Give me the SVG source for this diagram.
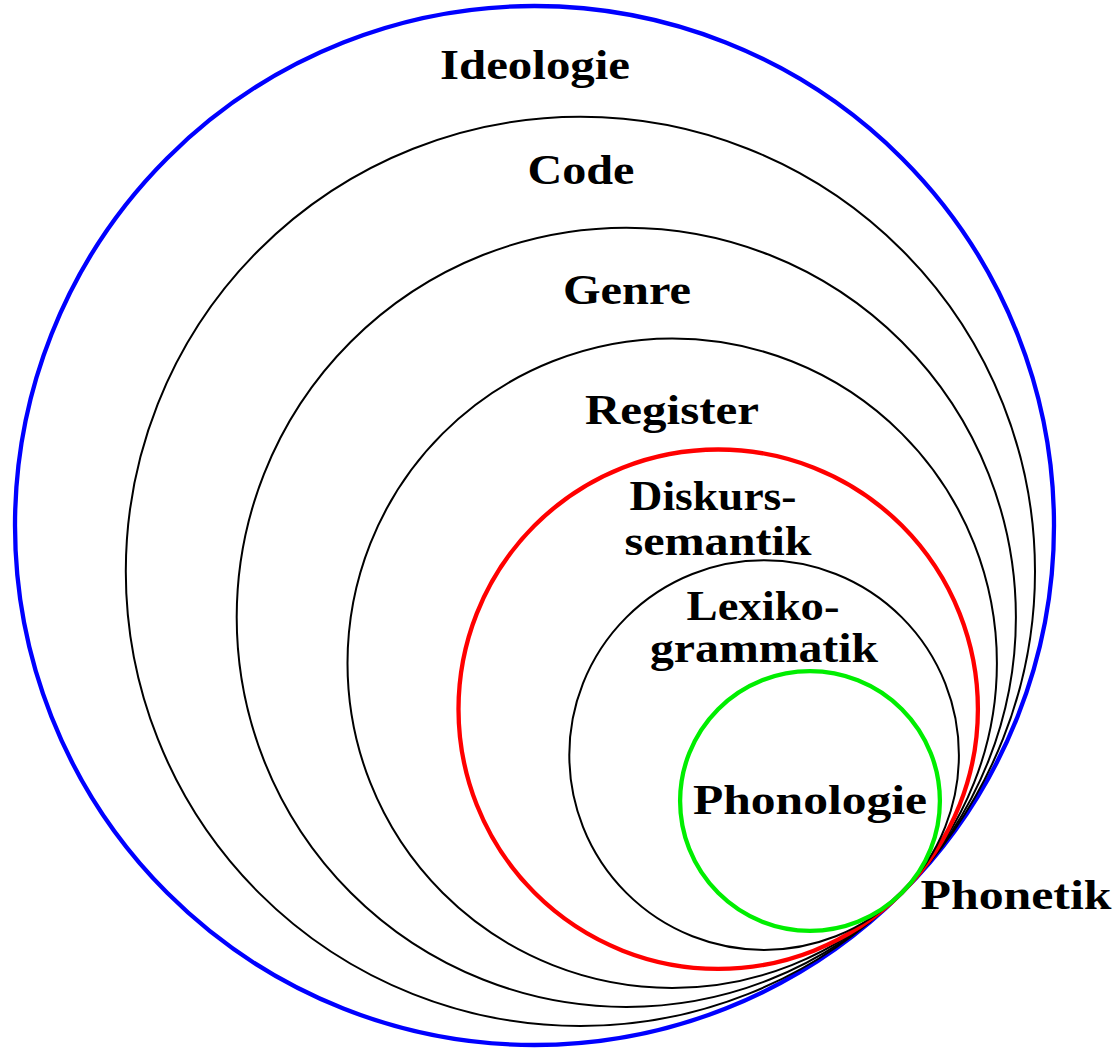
<svg xmlns="http://www.w3.org/2000/svg" width="1119" height="1050" viewBox="0 0 1119 1050">
<style>
.c{fill:none}
.thin{stroke:#000;stroke-width:2}
.thick{stroke-width:4.3}
text{font-family:"Liberation Serif","Times New Roman",serif;font-weight:bold;font-size:42px;fill:#000;text-anchor:middle}
</style>
<rect width="1119" height="1050" fill="#fff"/>
<g id="ideologie">
<circle class="c thick" cx="534.5" cy="525.5" r="519.5" stroke="#0000ff"/>
<text x="535" y="79" textLength="190" lengthAdjust="spacingAndGlyphs">Ideologie</text>
</g>
<g id="code">
<circle class="c thin" cx="580.4" cy="571.4" r="454.6"/>
<text x="581" y="184" textLength="107" lengthAdjust="spacingAndGlyphs">Code</text>
</g>
<g id="genre">
<circle class="c thin" cx="626.3" cy="617.3" r="389.6"/>
<text x="627" y="304" textLength="128" lengthAdjust="spacingAndGlyphs">Genre</text>
</g>
<g id="register">
<circle class="c thin" cx="672.2" cy="663.2" r="324.7"/>
<text x="672" y="424" textLength="174" lengthAdjust="spacingAndGlyphs">Register</text>
</g>
<g id="diskurssemantik">
<circle class="c thick" cx="718.2" cy="709.2" r="259.7" stroke="#ff0000"/>
<text x="713" y="510" textLength="167" lengthAdjust="spacingAndGlyphs">Diskurs-</text>
<text x="718" y="555" textLength="187" lengthAdjust="spacingAndGlyphs">semantik</text>
</g>
<g id="lexikogrammatik">
<circle class="c thin" cx="764.1" cy="755.1" r="194.8"/>
<text x="763" y="620" textLength="153" lengthAdjust="spacingAndGlyphs">Lexiko-</text>
<text x="764" y="662" textLength="228" lengthAdjust="spacingAndGlyphs">grammatik</text>
</g>
<g id="phonologie">
<circle class="c thick" cx="810" cy="801" r="129.9" stroke="#00ee00"/>
<text x="810" y="814" textLength="234" lengthAdjust="spacingAndGlyphs">Phonologie</text>
</g>
<g id="phonetik">
<text x="1016" y="909" textLength="191" lengthAdjust="spacingAndGlyphs">Phonetik</text>
</g>
<g id="connectors"></g>
</svg>
